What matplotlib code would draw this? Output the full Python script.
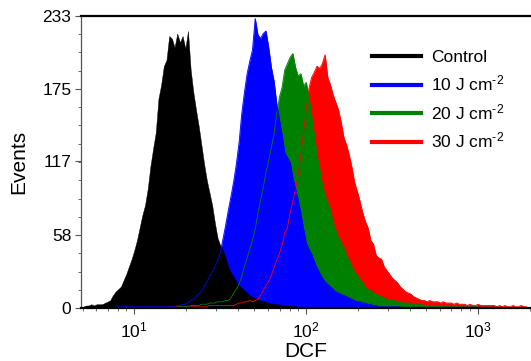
import numpy as np
import matplotlib
matplotlib.use("Agg")
import matplotlib.pyplot as plt
from matplotlib.lines import Line2D
from matplotlib.ticker import FixedLocator, LogLocator, NullFormatter

# histogram channels: 64 per decade, channel k sits at DCF = 10 ** (k / 64)
CHANNELS_PER_DECADE = 64

series_names = ["Control", "10 J cm$^{\u20102}$", "20 J cm$^{\u20102}$", "30 J cm$^{\u20102}$"]
series_colors = ["#000000", "#0000ff", "#008000", "#ff0000"]

control_start = 45
control_counts = [
    1, 2, 2, 3, 2, 3, 3, 3, 4, 5, 6, 10, 13, 15, 17, 22, 27, 33, 39, 46,
    54, 64, 74, 82, 95, 113, 127, 140, 167, 178, 193, 198, 217, 215, 208, 219, 212, 217, 207, 221,
    190, 172, 158, 145, 130, 115, 102, 92, 82, 68, 56, 50, 46, 40, 33, 28, 25, 21, 18, 16,
    14, 12, 10, 9, 8, 7, 6, 6, 5, 4, 4, 3, 3, 3, 2, 2, 2, 2, 1, 2,
    1, 1, 1, 1, 1,
]

dose10_start = 57
dose10_counts = [
    1, 1, 1, 1, 1, 1, 1, 1, 1, 1, 1, 1, 1, 1, 1, 1, 1, 1, 1, 1,
    1, 1, 1, 2, 2, 3, 3, 4, 6, 7, 9, 11, 13, 17, 21, 25, 29, 33, 38, 44,
    55, 66, 78, 89, 101, 115, 132, 155, 172, 187, 197, 206, 231, 218, 215, 219, 221, 208, 192, 181,
    163, 150, 138, 124, 120, 116, 104, 95, 86, 75, 63, 52, 47, 43, 37, 32, 28, 24, 21, 19,
    17, 15, 13, 12, 11, 10, 9, 8, 7, 6, 5, 5, 4, 4, 3, 3, 2, 2, 1, 1,
    1, 1, 1, 1, 1, 1, 1,
]

dose20_start = 80
dose20_counts = [
    1, 1, 1, 1, 1, 2, 2, 2, 2, 3, 3, 3, 4, 4, 4, 5, 5, 5, 6, 6,
    8, 12, 15, 19, 25, 33, 40, 47, 54, 63, 75, 86, 96, 108, 117, 128, 138, 155, 168, 176,
    190, 195, 200, 203, 192, 185, 187, 177, 180, 168, 153, 138, 122, 111, 98, 90, 84, 78, 68, 62,
    56, 52, 48, 42, 38, 33, 29, 26, 23, 20, 17, 15, 14, 12, 11, 10, 9, 8, 7, 7,
    6, 6, 5, 5, 4, 4, 4, 4, 3, 3, 3, 3, 2, 2, 2, 2, 2, 2, 2, 2,
    1, 2, 1, 1, 1, 1, 1, 1, 1, 1, 1, 1, 1, 0, 1, 0, 1, 0, 0, 1,
]

dose30_start = 77
dose30_counts = [
    1, 1, 1, 1, 1, 1, 1, 1, 1, 1, 1, 1, 1, 1, 1, 2, 2, 2, 2, 2,
    2, 2, 2, 2, 2, 3, 4, 4, 5, 5, 6, 5, 6, 7, 10, 14, 18, 21, 26, 32,
    38, 43, 50, 60, 64, 76, 85, 94, 106, 122, 140, 158, 175, 184, 188, 193, 191, 195, 202, 184,
    178, 170, 164, 158, 148, 136, 130, 122, 112, 100, 93, 85, 76, 69, 64, 54, 51, 42, 40, 39,
    33, 30, 27, 24, 22, 20, 17, 15, 13, 12, 11, 9, 8, 7, 6, 6, 5, 6, 5, 5,
    5, 4, 5, 4, 4, 4, 3, 4, 3, 3, 3, 2, 3, 2, 2, 3, 2, 2, 2, 2,
    2, 2, 1, 2, 1, 2, 1, 1, 2, 1, 1, 2, 1, 1,
]

y_ticks = [0, 58, 117, 175, 233]
y_max = 233
x_limits = (4.9, 2030)


def channel_series(start, counts):
    k = np.arange(start, start + len(counts))
    return 10.0 ** (k / CHANNELS_PER_DECADE), np.asarray(counts, dtype=float)


plt.rcParams["font.family"] = ["Liberation Sans", "DejaVu Sans"]
plt.rcParams["mathtext.default"] = "regular"

fig = plt.figure(figsize=(5.31, 3.61), dpi=100)
ax = fig.add_axes([81 / 531, 1 - 308 / 361, 1 - 81 / 531, 292 / 361])

data = [
    channel_series(control_start, control_counts),
    channel_series(dose10_start, dose10_counts),
    channel_series(dose20_start, dose20_counts),
    channel_series(dose30_start, dose30_counts),
]

# fills: highest dose at the back, control on top
for (x, y), color in reversed(list(zip(data, series_colors))):
    ax.fill_between(x, y, color=color, linewidth=0.3, edgecolor=color)

# thin outlines drawn over every fill
for (x, y), color in reversed(list(zip(data[1:], series_colors[1:]))):
    ax.plot(x, y, color=color, linewidth=0.6)

ax.set_xscale("log")
ax.set_xlim(*x_limits)
ax.set_ylim(0, y_max)

ax.yaxis.set_major_locator(FixedLocator(y_ticks))
ax.yaxis.set_minor_locator(FixedLocator(np.linspace(0, y_max, 17)))
ax.xaxis.set_minor_locator(LogLocator(base=10, subs=np.arange(2, 10)))
ax.xaxis.set_minor_formatter(NullFormatter())

ax.tick_params(which="both", direction="out", colors="#555555", labelcolor="black", labelsize=12.5)
ax.tick_params(which="major", length=4, width=0.8)
ax.tick_params(which="minor", length=2, width=0.6)
ax.tick_params(axis="y", pad=3)
ax.tick_params(axis="x", pad=5)

ax.spines["right"].set_visible(False)
ax.spines["top"].set_linewidth(1.6)
ax.spines["bottom"].set_linewidth(1.6)
ax.spines["left"].set_linewidth(0.9)
ax.spines["left"].set_color("#555555")

ax.set_xlabel("DCF", fontsize=15)
ax.set_ylabel("Events", fontsize=15)
ax.xaxis.set_label_coords(0.5, -0.115)
ax.yaxis.set_label_coords(-0.118, 0.5)

handles = [Line2D([], [], color=c, linewidth=3) for c in series_colors]
fig.legend(handles, series_names, loc="upper left", bbox_to_anchor=(372 / 531, 1 - 50 / 361),
           frameon=False, fontsize=12.5, handlelength=2.8, handletextpad=0.6,
           labelspacing=0.5, borderpad=0, borderaxespad=0)

fig.savefig("out.png", dpi=100)
